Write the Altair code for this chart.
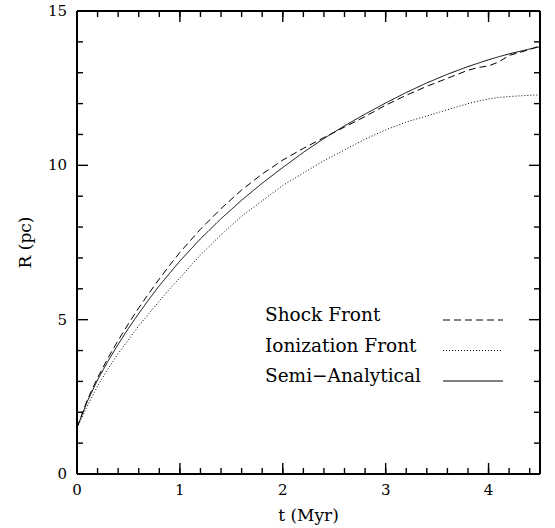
import altair as alt
import pandas as pd

# Expansion of the H II region: radius (pc) against time (Myr)
t_myr = [0, 0.1, 0.2, 0.3, 0.4, 0.5, 0.6, 0.7, 0.8, 0.9, 1.0, 1.2, 1.4, 1.6, 1.8,
         2.0, 2.2, 2.4, 2.6, 2.8, 3.0, 3.2, 3.4, 3.6, 3.8, 3.9, 4.0, 4.1, 4.2, 4.4, 4.5]
shock_front = [1.5, 2.4, 3.12, 3.75, 4.33, 4.87, 5.38, 5.86, 6.32, 6.76, 7.18, 7.93, 8.6,
               9.2, 9.72, 10.17, 10.55, 10.9, 11.24, 11.58, 11.95, 12.27, 12.56, 12.82,
               13.08, 13.17, 13.22, 13.35, 13.56, 13.75, 13.88]
ionization_front = [1.5, 2.2, 2.85, 3.4, 3.9, 4.35, 4.8, 5.2, 5.6, 6.0, 6.35, 7.1, 7.75,
                    8.35, 8.85, 9.35, 9.75, 10.15, 10.5, 10.85, 11.15, 11.4, 11.6, 11.8,
                    12.0, 12.08, 12.15, 12.2, 12.23, 12.27, 12.28]
semi_analytical = [1.5, 2.35, 3.05, 3.65, 4.2, 4.72, 5.2, 5.66, 6.1, 6.5, 6.9, 7.62, 8.27,
                   8.87, 9.42, 9.93, 10.42, 10.87, 11.28, 11.66, 12.02, 12.36, 12.67, 12.95,
                   13.2, 13.31, 13.42, 13.52, 13.61, 13.77, 13.84]

series_names = ["Shock Front", "Ionization Front", "Semi\u2212Analytical"]
series_dash = [[7, 4], [1, 2], [1, 0]]

x_labels = [0, 1, 2, 3, 4]
y_labels = [0, 5, 10, 15]
x_major = [1, 2, 3, 4]
x_minor = [round(0.2 * i, 1) for i in range(1, 23)]
y_major = [5, 10]
y_minor = [1, 2, 3, 4, 6, 7, 8, 9, 11, 12, 13, 14]
x_title, y_title = "t (Myr)", "R (pc)"

W = H = 463
FONT = "DejaVu Serif"
MAJOR, MINOR = 11, 6

xscale = alt.Scale(domain=[0, 4.5], nice=False, zero=False)
yscale = alt.Scale(domain=[0, 15], nice=False, zero=False)


def xenc(field):
    return alt.X(f"{field}:Q", scale=xscale, axis=None)


def yenc(field):
    return alt.Y(f"{field}:Q", scale=yscale, axis=None)


# One line per series, each with its own dash pattern
line_layers = []
for vals, dash in zip([shock_front, ionization_front, semi_analytical], series_dash):
    df = pd.DataFrame({"t": t_myr, "R": vals})
    line_layers.append(
        alt.Chart(df).mark_line(color="black", strokeWidth=1, strokeDash=dash)
        .encode(x=xenc("t"), y=yenc("R")))


# Inward ticks on all four sides, drawn as tick marks
def xticks(values, length):
    df = pd.DataFrame({"tick_t": values})
    base = alt.Chart(df).mark_tick(color="black", orient="vertical", size=length,
                                   thickness=1.4, opacity=1)
    return [base.encode(x=xenc("tick_t"), y=alt.value(H - length / 2)),
            base.encode(x=xenc("tick_t"), y=alt.value(length / 2))]


def yticks(values, length):
    df = pd.DataFrame({"tick_R": values})
    base = alt.Chart(df).mark_tick(color="black", orient="horizontal", size=length,
                                   thickness=1.4, opacity=1)
    return [base.encode(y=yenc("tick_R"), x=alt.value(length / 2)),
            base.encode(y=yenc("tick_R"), x=alt.value(W - length / 2))]


tick_layers = (xticks(x_major, MAJOR) + xticks(x_minor, MINOR)
               + yticks(y_major, MAJOR) + yticks(y_minor, MINOR))

# Frame around the plot area
edge_df = pd.DataFrame({"edge": ["frame"]})
frame = alt.Chart(edge_df).mark_rule(color="black", strokeWidth=2)
frame_layers = [
    frame.encode(x=alt.value(0), x2=alt.value(W), y=alt.value(0)),
    frame.encode(x=alt.value(0), x2=alt.value(W), y=alt.value(H)),
    frame.encode(x=alt.value(0), y=alt.value(0), y2=alt.value(H)),
    frame.encode(x=alt.value(W), y=alt.value(0), y2=alt.value(H)),
]

# Tick labels and axis titles
xlab = alt.Chart(pd.DataFrame({"t": x_labels, "s": [str(v) for v in x_labels]})).mark_text(
    font=FONT, fontSize=15, color="black", align="center", baseline="middle"
).encode(x=xenc("t"), y=alt.value(H + 16), text="s:N")
ylab = alt.Chart(pd.DataFrame({"R": y_labels, "s": [str(v) for v in y_labels]})).mark_text(
    font=FONT, fontSize=15, color="black", align="right", baseline="middle"
).encode(y=yenc("R"), x=alt.value(-10), text="s:N")
titles_df = pd.DataFrame({"s": [x_title, y_title]})
xt = alt.Chart(titles_df.iloc[[0]]).mark_text(
    font=FONT, fontSize=17, color="black", align="center", baseline="middle"
).encode(text="s:N", x=alt.value(W / 2), y=alt.value(H + 42))
yt = alt.Chart(titles_df.iloc[[1]]).mark_text(
    font=FONT, fontSize=17, color="black", align="center", baseline="middle", angle=270
).encode(text="s:N", x=alt.value(-51), y=alt.value(H / 2))

# Key in the lower right: labels on the left, line samples on the right
key_layers = []
for i, (name, dash) in enumerate(zip(series_names, series_dash)):
    one = pd.DataFrame({"series": [name]})
    key_layers.append(
        alt.Chart(one).mark_text(align="left", baseline="alphabetic", font=FONT,
                                 fontSize=18.5, color="black").encode(
            text="series:N", x=alt.value(188), y=alt.value(310 + 30.5 * i)))
    key_layers.append(
        alt.Chart(one).mark_rule(color="black", strokeWidth=1, strokeDash=dash).encode(
            x=alt.value(366), x2=alt.value(426), y=alt.value(309 + 30.5 * i)))

chart = alt.layer(*line_layers, *frame_layers, xlab, ylab, xt, yt,
                  *key_layers, *tick_layers).properties(
    width=W, height=H,
    padding={"left": 77, "top": 11, "right": 15, "bottom": 54},
    autosize=alt.AutoSizeParams(type="none"),
).configure_view(strokeWidth=0)

chart.save("out.html", embed_options={"renderer": "svg", "actions": False})
